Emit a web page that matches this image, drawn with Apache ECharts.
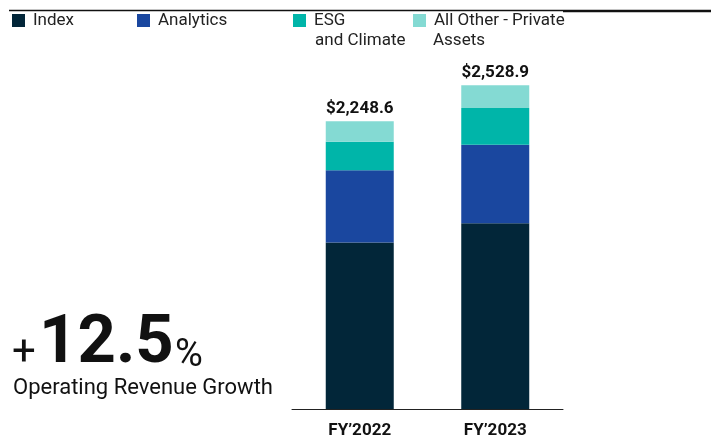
<!DOCTYPE html>
<html lang="en">
<head>
    <meta charset="UTF-8">
    <title>Operating Revenue</title>
    <style>
        * { padding: 0; margin: 0; }
        .EC { width: 711px; height: 439px; background: #fff; }
    </style>
</head>
<body>
<div class="EC"></div>
<script src="https://cdn.jsdelivr.net/npm/echarts@6/dist/echarts.min.js"></script>
<script>
    // data ($M)
    const years = ['FY\u20192022', 'FY\u20192023']
    const indexRev = [1300.0, 1450.5]
    const analytics = [566.1, 614.0]
    const esg = [222.7, 287.4]
    const otherPrivate = [159.8, 177.0]
    const totals = ['$2,248.6', '$2,528.9']

    const names = ['Index', 'Analytics', 'ESG and Climate', 'All Other - Private Assets']
    const colors = ['#022639', '#1a479f', '#00b5a9', '#84dad3']
    const font = 'Roboto'

    let EC = echarts.init(document.querySelector('.EC'))

    const mkSeries = (name, data, i, last) => ({
        name: name,
        type: 'bar',
        stack: 'rev',
        barWidth: 68,
        data: data,
        itemStyle: { color: colors[i] },
        emphasis: { disabled: true },
        label: last ? {
            show: true,
            position: 'top',
            distance: 4,
            formatter: p => totals[p.dataIndex],
            color: '#111',
            fontFamily: font,
            fontWeight: 'bold',
            fontSize: 17
        } : { show: false }
    })

    // one legend per item so they sit where the reference puts them
    const legendPos = [12, 137, 293, 413]
    const firstLine = ['Index', 'Analytics', 'ESG', 'All Other - Private']
    const legends = names.map((n, i) => ({
        data: [n],
        left: legendPos[i],
        top: 12,
        padding: 0,
        icon: 'rect',
        itemWidth: 13,
        itemHeight: 13,
        itemGap: 0,
        selectedMode: false,
        formatter: () => firstLine[i],
        textStyle: { fontFamily: font, fontSize: 17, color: '#222', padding: [0, 0, 0, 3] }
    }))

    let option = {
        backgroundColor: '#fff',
        animation: false,
        legend: legends,
        grid: { left: 292, right: 148, top: 25, bottom: 25 },
        xAxis: {
            type: 'category',
            data: years,
            axisTick: { show: false },
            axisLine: { lineStyle: { color: '#222', width: 1 } },
            axisLabel: { color: '#111', fontFamily: font, fontWeight: 'bold', fontSize: 17, margin: 13 }
        },
        yAxis: { type: 'value', min: 0, max: 3000, show: false, splitLine: { show: false } },
        series: [
            mkSeries(names[0], indexRev, 0),
            mkSeries(names[1], analytics, 1),
            mkSeries(names[2], esg, 2),
            mkSeries(names[3], otherPrivate, 3, true)
        ],
        graphic: [
            { type: 'line', shape: { x1: 9, y1: 10.5, x2: 563, y2: 10.5 }, style: { stroke: '#111', lineWidth: 1.5 } },
            { type: 'line', shape: { x1: 563, y1: 11, x2: 711, y2: 11 }, style: { stroke: '#111', lineWidth: 2.5 } },
            { type: 'text', left: 315, top: 32, style: { text: 'and Climate', fontFamily: font, fontSize: 17, fill: '#222' } },
            { type: 'text', left: 433, top: 32, style: { text: 'Assets', fontFamily: font, fontSize: 17, fill: '#222' } },
            { type: 'text', left: 12, top: 333, style: { text: '+', fontFamily: font, fontSize: 42, fill: '#111' } },
            { type: 'text', left: 39, top: 312, style: { text: '12.5', fontFamily: font, fontWeight: 'bold', fontSize: 67, fill: '#111' } },
            { type: 'text', left: 175, top: 337, style: { text: '%', fontFamily: font, fontSize: 38, fill: '#111' } },
            { type: 'text', left: 13, top: 377, style: { text: 'Operating Revenue Growth', fontFamily: font, fontSize: 22, fill: '#111' } }
        ]
    }
    EC.setOption(option)
</script>
</body>
</html>
